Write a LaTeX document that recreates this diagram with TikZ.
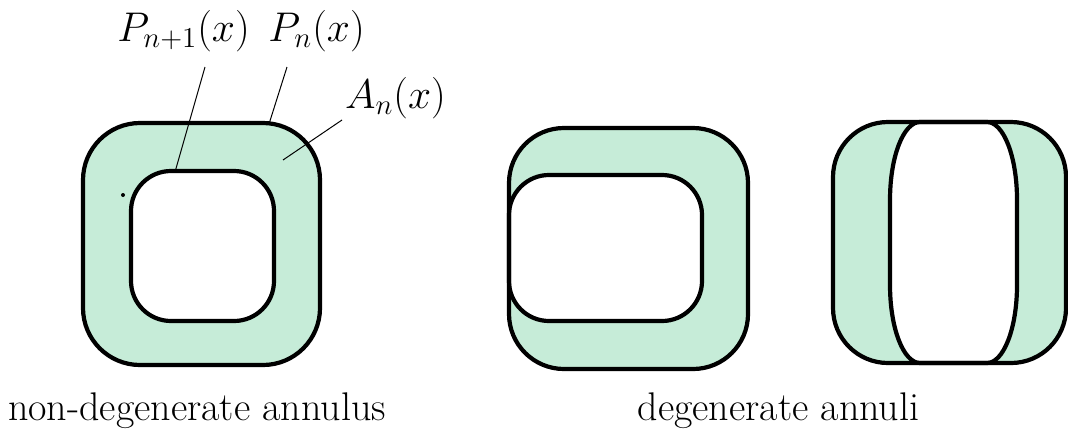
\documentclass[tikz,border=0pt]{standalone}
\usepackage{xcolor}
\definecolor{mint}{RGB}{198,236,216}
\begin{document}
\begin{tikzpicture}[x=0.5pt,y=-0.5pt,
  rim/.style={draw=black,line width=2.1pt,line join=round},
  leader/.style={draw=black,line width=0.5pt},
  lbl/.style={font=\fontsize{20}{24}\selectfont,inner sep=0pt,anchor=base},
  mlbl/.style={font=\fontsize{21.5}{26}\selectfont,inner sep=0pt,anchor=base}]
\useasboundingbox (0,0) rectangle (1068,429);

% ---- non-degenerate annulus ----
\fill[mint,even odd rule]
  [rounded corners=28.5pt] (83,123) rectangle (320,365)
  [rounded corners=20pt] (131,171) rectangle (274,321);
\draw[rim,rounded corners=28.5pt] (83,123) rectangle (320,365);
\draw[rim,rounded corners=20pt] (131,171) rectangle (274,321);
\fill (123,195) circle[radius=2];

% labels
\node[mlbl] (pn1) at (183.5,41) {$P_{n+1}(x)$};
\node[mlbl] (pn) at (316.5,41) {$P_n(x)$};
\node[mlbl] (an) at (395.5,108) {$A_n(x)$};
\coordinate (pn1a) at (205,67);
\coordinate (pn1b) at (175,172);
\coordinate (pna) at (287,67);
\coordinate (pnb) at (269,124);
\coordinate (ana) at (342,120);
\coordinate (anb) at (283,160);
\draw[leader] (pn1a) -- (pn1b);
\draw[leader] (pna) -- (pnb);
\draw[leader] (ana) -- (anb);

% ---- degenerate annulus 1 ----
\fill[mint,even odd rule]
  [rounded corners=27.5pt] (509,128) rectangle (748,369)
  [rounded corners=20pt] (509,175) rectangle (702,321);
\draw[rim,rounded corners=27.5pt] (509,128) rectangle (748,369);
\draw[rim,rounded corners=20pt] (509,175) rectangle (702,321);

% ---- degenerate annulus 2 ----
\fill[mint,even odd rule]
  [rounded corners=27.5pt] (833,122) rectangle (1066,363)
  [sharp corners] (890,200) .. controls (890,155.8) and (903.8,122) .. (920,122)
  -- (987,122) .. controls (1003.2,122) and (1017,155.8) .. (1017,200)
  -- (1017,285) .. controls (1017,329.2) and (1003.2,363) .. (987,363)
  -- (920,363) .. controls (903.8,363) and (890,329.2) .. (890,285) -- cycle;
\draw[rim,rounded corners=27.5pt] (833,122) rectangle (1066,363);
\draw[rim] (890,200) .. controls (890,155.8) and (903.8,122) .. (920,122)
  -- (987,122) .. controls (1003.2,122) and (1017,155.8) .. (1017,200)
  -- (1017,285) .. controls (1017,329.2) and (1003.2,363) .. (987,363)
  -- (920,363) .. controls (903.8,363) and (890,329.2) .. (890,285) -- cycle;

% captions
\node[lbl] (cap1) at (197,420) {non-degenerate annulus};
\node[lbl] (cap2) at (778.5,420) {degenerate annuli};
\end{tikzpicture}
\end{document}
